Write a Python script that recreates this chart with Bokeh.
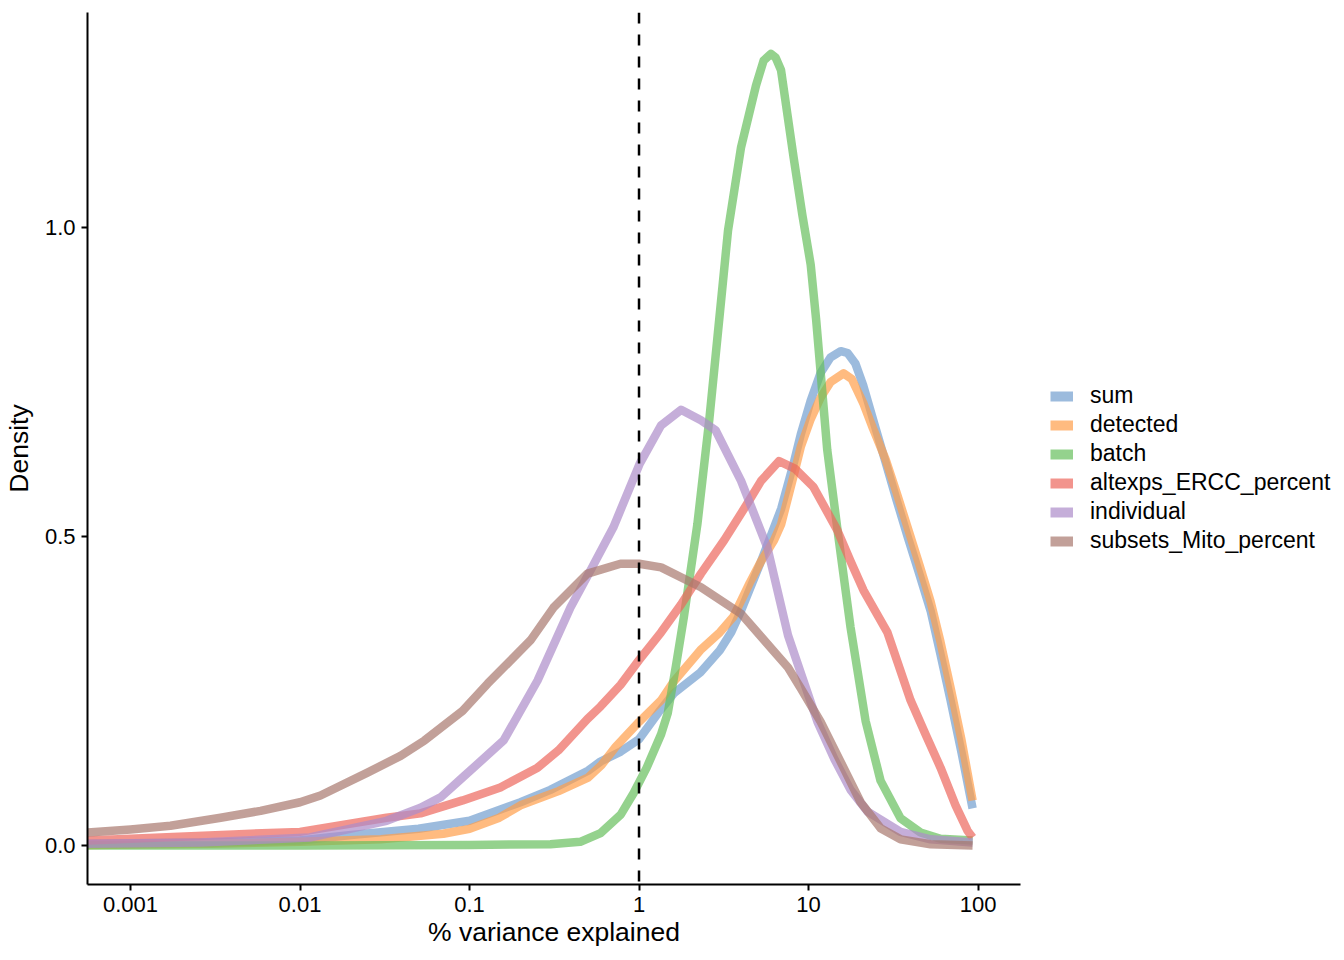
from bokeh.plotting import figure
from bokeh.layouts import row
from bokeh.models import Range1d, FixedTicker, Span, Legend, LegendItem
from bokeh.embed import file_html
from bokeh.resources import INLINE

FONT = "Liberation Sans"
NAN = float("nan")

series_names = ["sum", "detected", "batch", "altexps_ERCC_percent", "individual", "subsets_Mito_percent"]
series_colors = ["#729ECE", "#FF9E4A", "#67BF5C", "#ED665D", "#AD8BC9", "#A8786E"]

x_ticks = [0.001, 0.01, 0.1, 1, 10, 100]
x_tick_labels = ["0.001", "0.01", "0.1", "1", "10", "100"]
y_ticks = [0.0, 0.5, 1.0]
y_tick_labels = ["0.0", "0.5", "1.0"]

# % variance explained (x) and density (y) for each variable
sum_x = [0.00056, 0.003, 0.01, 0.02, 0.05, 0.1, 0.2, 0.3, 0.5, 0.593, 0.78, 1.0, 1.3, 1.6, 2.3, 3.0, 3.5, 4.0,
         5.25, 6.9, 8.2, 9.0, 10.3, 11.8, 13.5, 15.5, 17.0, 18.9, 21.0, 24.0, 28.5, 33.0, 38.4, 45.0, 52.5,
         60.0, 68.9, 80.0, 92.9]
sum_y = [0.003, 0.005, 0.008, 0.017, 0.027, 0.04, 0.07, 0.09, 0.121, 0.136, 0.152, 0.172, 0.215, 0.246, 0.28,
         0.316, 0.345, 0.38, 0.46, 0.545, 0.62, 0.665, 0.72, 0.765, 0.79, 0.80, 0.797, 0.78, 0.745, 0.69,
         0.62, 0.56, 0.5, 0.44, 0.38, 0.31, 0.235, 0.15, 0.06]

detected_x = [0.00056, 0.003, 0.01, 0.03, 0.07, 0.1, 0.15, 0.2, 0.335, 0.5, 0.6, 0.73, 1.0, 1.35, 1.6, 2.3,
              3.0, 3.6, 4.5, 5.25, 6.26, 6.9, 8.2, 9.0, 10.3, 11.8, 13.5, 16.1, 18.0, 21.1, 24.0, 28.5,
              33.0, 38.4, 45.0, 52.5, 60.0, 68.9, 80.0, 92.9]
detected_y = [0.001, 0.003, 0.006, 0.01, 0.019, 0.027, 0.045, 0.065, 0.088, 0.11, 0.13, 0.16, 0.2,
              0.235, 0.265, 0.316, 0.345, 0.37, 0.425, 0.46, 0.494, 0.52, 0.6, 0.645, 0.69, 0.725, 0.75,
              0.764, 0.755, 0.715, 0.675, 0.625, 0.572, 0.515, 0.455, 0.395, 0.33, 0.255, 0.17, 0.073]

batch_x = [0.00056, 0.01, 0.1, 0.3, 0.45, 0.593, 0.78, 0.93, 1.11, 1.35, 1.48, 1.65, 1.84, 2.21, 2.6, 2.97,
           3.35, 4.0, 4.9, 5.43, 6.0, 6.4, 6.88, 8.17, 9.2, 10.3, 11.1, 12.9, 15.0, 17.7, 21.7, 26.6, 34.9,
           45.8, 60.1, 92.9]
batch_y = [0.0, 0.0, 0.001, 0.002, 0.006, 0.02, 0.05, 0.085, 0.126, 0.18, 0.215, 0.29, 0.37, 0.52, 0.69,
           0.85, 0.995, 1.13, 1.23, 1.27, 1.281, 1.275, 1.255, 1.113, 1.02, 0.94, 0.85, 0.64, 0.5, 0.353,
           0.202, 0.105, 0.044, 0.021, 0.011, 0.008]

ercc_x = [0.00056, 0.00405, 0.01, 0.0324, 0.0514, 0.091, 0.152, 0.252, 0.335, 0.497, 0.593, 0.778, 1.0,
          1.35, 1.77, 2.32, 3.18, 4.28, 5.25, 6.7, 8.3, 10.7, 14.8, 17.7, 21.1, 29.2, 40.0, 49.0, 60.1,
          73.7, 86.7, 92.9]
ercc_y = [0.008, 0.018, 0.022, 0.045, 0.052, 0.073, 0.094, 0.126, 0.154, 0.205, 0.225, 0.26, 0.3, 0.345,
          0.39, 0.44, 0.494, 0.55, 0.59, 0.622, 0.61, 0.58, 0.51, 0.46, 0.413, 0.345, 0.235, 0.18, 0.126,
          0.065, 0.024, 0.013]

individual_x = [0.00056, 0.00259, 0.0114, 0.0324, 0.0514, 0.0675, 0.091, 0.159, 0.252, 0.394, 0.517,
                0.706, 1.01, 1.35, 1.77, 2.32, 2.83, 4.0, 5.72, 7.57, 8.98, 11.3, 14.2, 17.7, 22.3, 34.9,
                52.5, 92.9]
individual_y = [0.003, 0.005, 0.013, 0.04, 0.061, 0.078, 0.11, 0.17, 0.267, 0.385, 0.445, 0.515, 0.618,
                0.68, 0.705, 0.688, 0.672, 0.59, 0.482, 0.34, 0.28, 0.2, 0.14, 0.09, 0.055, 0.022, 0.01,
                0.005]

mito_x = [0.00056, 0.001, 0.00172, 0.0034, 0.00585, 0.01, 0.0132, 0.025, 0.0392, 0.0543, 0.091, 0.128,
          0.229, 0.313, 0.497, 0.778, 1.0, 1.35, 2.32, 4.0, 7.57, 8.98, 11.8, 15.5, 20.3, 26.6, 34.9, 52.5,
          92.9]
mito_y = [0.021, 0.026, 0.032, 0.045, 0.056, 0.07, 0.081, 0.118, 0.145, 0.17, 0.218, 0.262, 0.332, 0.385,
          0.44, 0.456, 0.456, 0.45, 0.418, 0.375, 0.288, 0.255, 0.2, 0.135, 0.07, 0.028, 0.01, 0.002, 0.0]

all_x = [sum_x, detected_x, batch_x, ercc_x, individual_x, mito_x]
all_y = [sum_y, detected_y, batch_y, ercc_y, individual_y, mito_y]

H = 952

p = figure(width=1030, height=H, x_axis_type="log",
           x_range=Range1d(5.574e-4, 178.1), y_range=Range1d(-0.0631, 1.348),
           output_backend="svg", toolbar_location=None,
           min_border_left=87, min_border_right=10, min_border_top=12, min_border_bottom=68)
p.outline_line_color = None
p.xgrid.visible = False
p.ygrid.visible = False
p.background_fill_color = "white"
p.border_fill_color = "white"

for xs, ys, col in zip(all_x, all_y, series_colors):
    p.line(xs, ys, line_color=col, line_width=8.5, line_alpha=0.7, line_join="round")

p.add_layout(Span(location=1, dimension="height", line_color="black", line_width=2.5, line_dash="11 11"))

for ax in (p.xaxis[0], p.yaxis[0]):
    ax.axis_line_width = 2
    ax.axis_line_color = "black"
    ax.major_tick_line_width = 2
    ax.major_tick_line_color = "black"
    ax.major_tick_out = 6
    ax.major_tick_in = 0
    ax.minor_tick_line_color = None
    ax.major_label_text_font = FONT
    ax.major_label_text_font_size = "22px"
    ax.major_label_text_color = "black"
    ax.axis_label_text_font = FONT
    ax.axis_label_text_font_size = "26.5px"
    ax.axis_label_text_font_style = "normal"
    ax.axis_label_text_color = "black"

p.xaxis.ticker = FixedTicker(ticks=x_ticks)
p.xaxis.major_label_overrides = dict(zip(x_ticks, x_tick_labels))
p.xaxis.axis_label = "% variance explained"
p.xaxis.major_label_standoff = 6
p.xaxis.axis_label_standoff = 2

p.yaxis.ticker = FixedTicker(ticks=y_ticks)
p.yaxis.major_label_overrides = dict(zip(y_ticks, y_tick_labels))
p.yaxis.axis_label = "Density"
p.yaxis.major_label_standoff = 6
p.yaxis.axis_label_standoff = 8

# legend panel
q = figure(width=310, height=H, x_range=Range1d(0, 1), y_range=Range1d(0, 1),
           output_backend="svg", toolbar_location=None, min_border=0)
q.axis.visible = False
q.xgrid.visible = False
q.ygrid.visible = False
q.outline_line_color = None
q.background_fill_color = "white"
q.border_fill_color = "white"

items = []
for name, col in zip(series_names, series_colors):
    key = q.line([NAN], [NAN], line_color=col, line_width=10, line_alpha=0.7)
    items.append(LegendItem(label=name, renderers=[key]))

legend = Legend(items=items, location=(20, 330), glyph_width=23, glyph_height=26, label_height=26,
                spacing=2, padding=0, margin=0, border_line_color=None, background_fill_alpha=0,
                label_text_font=FONT, label_text_font_size="23px", label_text_color="black",
                label_standoff=17)
q.add_layout(legend)

layout = row(p, q, spacing=0)
open("out.html", "w").write(file_html(layout, INLINE))
